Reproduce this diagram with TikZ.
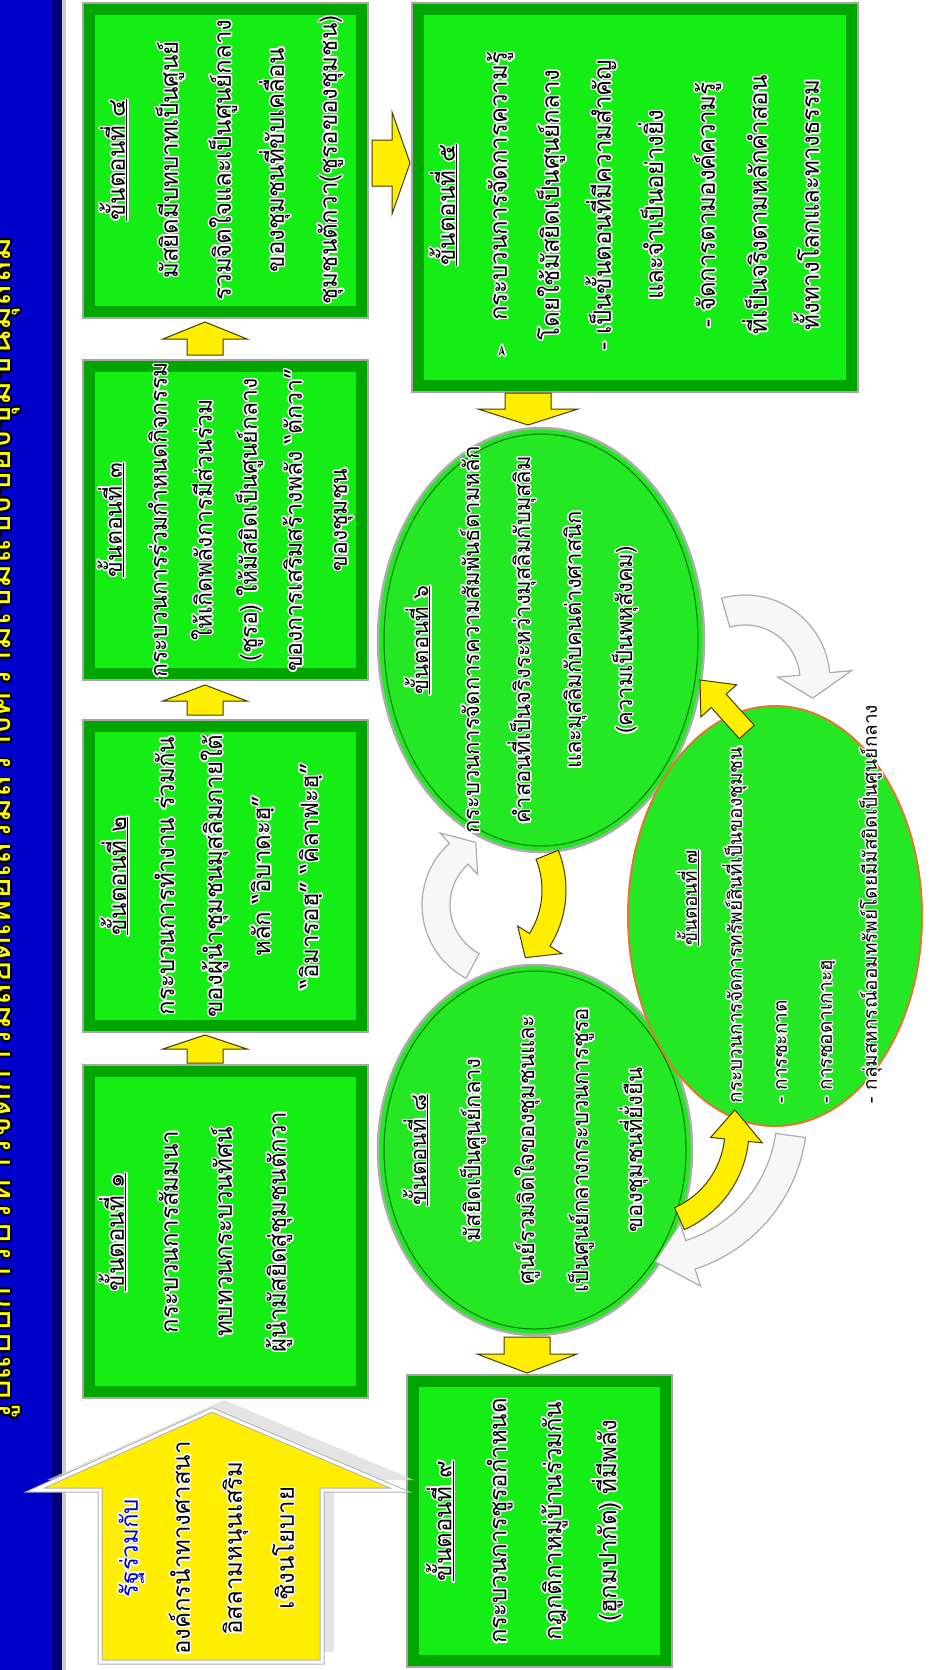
\documentclass[tikz,border=0pt]{standalone}
\usepackage{fontspec}
\newfontfamily\thai[Script=Thai]{Loma}
\newfontfamily\dejavu{DejaVu Sans}
\usepackage[copies]{contour}
\contourlength{1.4pt}
\contournumber{20}
\usetikzlibrary{calc}
\definecolor{barblue}{RGB}{0,0,205}
\definecolor{bardark}{RGB}{0,0,120}
\definecolor{ttlyellow}{RGB}{255,255,0}
\definecolor{boxdark}{RGB}{0,165,0}
\definecolor{boxlight}{RGB}{20,238,20}
\definecolor{circfill}{RGB}{35,232,35}
\definecolor{arrowyellow}{RGB}{255,238,0}
\definecolor{arrowedge}{RGB}{70,60,0}
\definecolor{orangeedge}{RGB}{225,120,50}
\definecolor{textblue}{RGB}{0,0,210}
\newcommand\cl[1]{\contour{white}{#1}}
\newcommand\hd[1]{\contour{white}{\underline{#1}}}
\newcommand\gbox[4]{%
  \filldraw[fill=boxdark, draw=gray!70, line width=1.5] (#1,#2) rectangle (#3,#4);
  \fill[boxlight] ($(#1,#2)+(12,12)$) rectangle ($(#3,#4)+(-12,-12)$);}
% curved block arrow: style, centre, rin, rout, a1, a2, atip, extra
\newcommand\carrow[8]{%
  \filldraw[#1] ($(#2)+(#5:#3)$) arc[start angle=#5, end angle=#6, radius=#3]
    -- ($(#2)+(#6:{#3-#8})$) -- ($(#2)+(#7:{(#3+#4)/2})$) -- ($(#2)+(#6:{#4+#8})$)
    -- ($(#2)+(#6:#4)$) arc[start angle=#6, end angle=#5, radius=#4] -- cycle;}
\tikzset{
  txt/.style={rotate=90, align=center, inner sep=0pt, font=\thai\fontsize{24}{50}\selectfont},
  yarrow/.style={fill=arrowyellow, draw=arrowedge, line width=1},
  warrow/.style={fill=gray!6, draw=gray!65, line width=1.2},
  circ/.style={fill=circfill, draw=gray!65, line width=2.5},
  pics/barrow/.style n args={4}{code={%
    \filldraw[yarrow] (0,0) -- (-#2,#3) -- (-#2,#4) -- (-#1,#4) -- (-#1,-#4) -- (-#2,-#4) -- (-#2,-#3) -- cycle;}}
}
\begin{document}
\begin{tikzpicture}[x=1pt,y=-1pt]
\useasboundingbox (0,0) rectangle (945,1670);
\fill[white] (0,0) rectangle (945,1670);
% title bar
\fill[barblue] (0,0) rectangle (62,1670);
\fill[bardark] (52,0) rectangle (62,1670);
\draw[gray!40, line width=4] (64,0) -- (64,1670);
\node[rotate=90, inner sep=0pt, anchor=base west, font=\thai\fontsize{37}{42}\selectfont] (title) at (10,1424)
  {\color{ttlyellow}\contourlength{2pt}\contour{black}{รูปแบบการบริหารจัดการมัสยิดเพื่อเสริมสร้างความเข้มแข็งของชุมชนมุสลิม}};
% boxes
\gbox{83}{3}{368}{318}
\gbox{83}{360}{368}{680}
\gbox{83}{720}{368}{1032}
\gbox{83}{1065}{368}{1398}
\gbox{412}{3}{858}{392}
\gbox{407}{1375}{672}{1667}
% ellipses
\coordinate (c6) at (541,640);
\coordinate (c8) at (535,1150);
\coordinate (c7) at (775,916);
\filldraw[circ] (c6) ellipse [x radius=163, y radius=212];
\draw[green!45!black, line width=1] (c6) ellipse [x radius=157, y radius=206];
\filldraw[circ] (c8) ellipse [x radius=157, y radius=185];
\draw[green!45!black, line width=1] (c8) ellipse [x radius=151, y radius=179];
\filldraw[fill=circfill, draw=orangeedge, line width=2] (c7) ellipse [x radius=147, y radius=210];
% big policy arrow
\fill[gray!30, opacity=0.7] (224,1400) -- (414,1480) -- (334,1480) -- (334,1652) -- (112,1652) -- (112,1480) -- (47,1480) -- cycle;
\filldraw[fill=arrowyellow, draw=gray!60, double=white, double distance=3, line width=1]
  (212,1410) -- (400,1490) -- (322,1490) -- (322,1662) -- (100,1662) -- (100,1490) -- (35,1490) -- cycle;
% straight block arrows
\coordinate (a43) at (205,322);
\coordinate (a32) at (205,685);
\coordinate (a21) at (205,1035);
\coordinate (a45) at (410,163);
\coordinate (a56) at (528,425);
\coordinate (a89) at (527,1373);
\coordinate (a76) at (700,680);
\pic[rotate=90] at (a43) {barrow={33}{17}{42}{18}};
\pic[rotate=90] at (a32) {barrow={30}{16}{42}{18}};
\pic[rotate=90] at (a21) {barrow={28}{14}{42}{18}};
\pic at (a45) {barrow={38}{18}{51}{23}};
\pic[rotate=-90] at (a56) {barrow={32}{16}{50}{23}};
\pic[rotate=-90] at (a89) {barrow={36}{19}{50}{23}};
\pic[rotate=132] at (a76) {barrow={70}{28}{24}{10}};
% curved arrows
\coordinate (k1) at (745,680);
\coordinate (k2) at (460,890);
\coordinate (k3) at (505,905);
\coordinate (k4) at (640,1130);
\coordinate (k5) at (645,1115);
\carrow{warrow}{k1}{55}{85}{254}{355}{375}{22}
\carrow{yarrow}{k2}{82}{106}{-22}{32}{46}{14}
\carrow{warrow}{k3}{55}{83}{118}{228}{245}{14}
\carrow{yarrow}{k4}{85}{109}{66}{6}{-12}{14}
\carrow{warrow}{k5}{132}{162}{8}{72}{86}{18}
% texts
\node[txt, font=\thai\fontsize{24}{53}\selectfont] (t4) at (222,160)
  {\hd{ขั้นตอนที่ ๔}\\ \cl{มัสยิดมีบทบาทเป็นศูนย์}\\ \cl{รวมจิตใจและเป็นศูนย์กลาง}\\ \cl{ของชุมชนที่ขับเคลื่อน}\\ \cl{ชุมชนตักวา(ชูรอของชุมชน)}};
\node[txt, font=\thai\fontsize{23}{45}\selectfont] (t3) at (226,520)
  {\hd{ขั้นตอนที่ ๓}\\ \cl{กระบวนการร่วมกำหนดกิจกรรม}\\ \cl{ให้เกิดพลังการมีส่วนร่วม}\\ \cl{(ชูรอ) ให้มัสยิดเป็นศูนย์กลาง}\\ \cl{ของการเสริมสร้างพลัง “ตักวา”}\\ \cl{ของชุมชน}};
\node[txt, font=\thai\fontsize{24}{48}\selectfont] (t2) at (212,876)
  {\hd{ขั้นตอนที่ ๒}\\ \cl{กระบวนการทำงาน ร่วมกัน}\\ \cl{ของผู้นำชุมชนมุสลิมภายใต้}\\ \cl{หลัก “อิบาดะฮฺ”}\\ \cl{“อิมารอฮฺ” “คิลาฟะฮฺ”}};
\node[txt, font=\thai\fontsize{24}{54}\selectfont] (t1) at (196,1232)
  {\hd{ขั้นตอนที่ ๑}\\ \cl{กระบวนการสัมมนา}\\ \cl{ทบทวนกระบวนทัศน์}\\ \cl{ผู้นำมัสยิดสู่ชุมชนตักวา}};
\node[txt, font=\thai\fontsize{24}{52}\selectfont] (t5) at (625,205)
  {\hd{ขั้นตอนที่ ๕}\\ \cl{{\dejavu\fontsize{16}{16}\selectfont ➢}\quad กระบวนการจัดการความรู้}\\ \cl{โดยใช้มัสยิดเป็นศูนย์กลาง}\\ \cl{- เป็นขั้นตอนที่มีความสำคัญ}\\ \cl{และจำเป็นอย่างยิ่ง}\\ \cl{- จัดการตามองค์ความรู้}\\ \cl{ที่เป็นจริงตามหลักคำสอน}\\ \cl{ทั้งทางโลกและทางธรรม}};
\node[txt, font=\thai\fontsize{22}{51}\selectfont] (t6) at (522,640)
  {\hd{ขั้นตอนที่ ๖}\\ \cl{กระบวนการจัดการความสัมพันธ์ตามหลัก}\\ \cl{คำสอนที่เป็นจริงระหว่างมุสลิมกับมุสลิม}\\ \cl{และมุสลิมกับคนต่างศาสนิก}\\ \cl{(ความเป็นพหุสังคม)}};
\node[txt, font=\thai\fontsize{22}{54}\selectfont] (t8) at (526,1150)
  {\hd{ขั้นตอนที่ ๘}\\ \cl{มัสยิดเป็นศูนย์กลาง}\\ \cl{ศูนย์รวมจิตใจของชุมชนและ}\\ \cl{เป็นศูนย์กลางกระบวนการชูรอ}\\ \cl{ของชุมชนที่ยั่งยืน}};
\node[txt, font=\thai\fontsize{19}{45}\selectfont, text width=410pt, align=left] (t7) at (780,898)
  {\makebox[\linewidth]{\hd{ขั้นตอนที่ ๗}}\\ \cl{กระบวนการจัดการทรัพย์สินที่เป็นของชุมชน}\\ \cl{- การซะกาต}\\ \cl{- การซอดาเกาะฮฺ}\\ \cl{- กลุ่มสหกรณ์ออมทรัพย์โดยมีมัสยิดเป็นศูนย์กลาง}};
\node[txt, font=\thai\fontsize{24}{55}\selectfont] (t9) at (525,1521)
  {\hd{ขั้นตอนที่ ๙}\\ \cl{กระบวนการชูรอกำหนด}\\ \cl{กฎกติกาหมู่บ้านร่วมกัน}\\ \cl{(ฮูกมปากัต) ที่มีพลัง}};
\node[txt, font=\thai\fontsize{24}{52}\selectfont] (tp) at (207,1548)
  {\color{textblue}\cl{รัฐร่วมกับ}\\ \cl{องค์กรนำทางศาสนา}\\ \cl{อิสลามหนุนเสริม}\\ \cl{เชิงนโยบาย}};
\end{tikzpicture}
\end{document}
